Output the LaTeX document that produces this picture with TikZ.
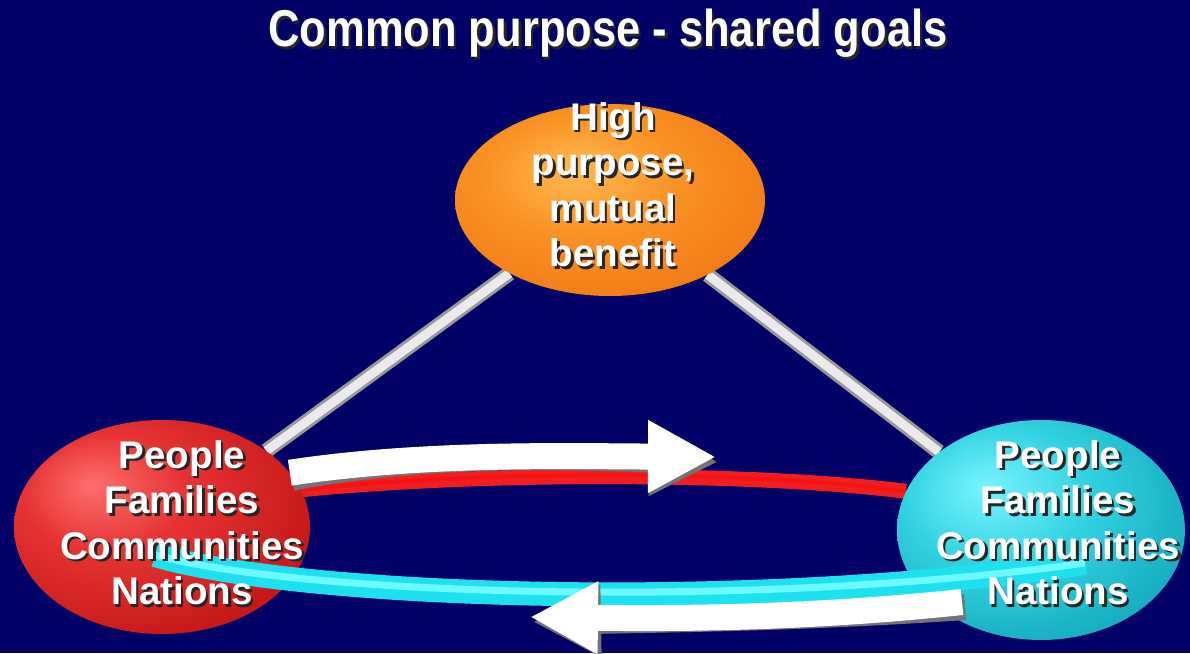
\documentclass[tikz,border=0pt]{standalone}
\usepackage{fontspec}
\setmainfont{Liberation Sans}
\usetikzlibrary{shapes.geometric,arrows.meta,calc}
\definecolor{bgnavy}{RGB}{0,0,102}
\definecolor{redband}{RGB}{240,30,30}
\definecolor{cyanband}{RGB}{30,225,240}
\definecolor{cyanlight}{RGB}{110,248,255}
\pgfdeclareradialshading{redball}{\pgfpoint{-12bp}{10bp}}{%
  color(0bp)=(rgb,255:red,255;green,110;blue,110);
  color(14bp)=(rgb,255:red,230;green,50;blue,50);
  color(32bp)=(rgb,255:red,200;green,25;blue,25);
  color(50bp)=(rgb,255:red,165;green,15;blue,15);
  color(70bp)=(rgb,255:red,150;green,10;blue,10)}
\pgfdeclareradialshading{orangeball}{\pgfpoint{-6bp}{8bp}}{%
  color(0bp)=(rgb,255:red,255;green,185;blue,80);
  color(16bp)=(rgb,255:red,250;green,145;blue,35);
  color(34bp)=(rgb,255:red,240;green,120;blue,20);
  color(50bp)=(rgb,255:red,225;green,100;blue,10);
  color(70bp)=(rgb,255:red,210;green,90;blue,5)}
\pgfdeclareradialshading{cyanball}{\pgfpoint{-10bp}{10bp}}{%
  color(0bp)=(rgb,255:red,120;green,245;blue,255);
  color(16bp)=(rgb,255:red,50;green,210;blue,225);
  color(34bp)=(rgb,255:red,20;green,170;blue,190);
  color(50bp)=(rgb,255:red,10;green,130;blue,150);
  color(70bp)=(rgb,255:red,5;green,110;blue,130)}
\newcommand\shw[1]{\leavevmode\rlap{\kern2.5pt\raisebox{-2.5pt}{\textcolor{black!85}{#1}}}#1}
\tikzset{
  ball/.style={ellipse, inner sep=0pt},
  txt/.style={text=white, align=center, font=\bfseries\fontsize{38.5}{45.5}\selectfont, inner sep=0pt},
  rodout/.style={line width=15pt, color=black!40},
  rodin/.style={line width=9pt, color=black!8},
  redstroke/.style={line width=15pt, color=redband},
  redhi/.style={line width=4pt, color=red!40!redband},
  cyanstroke/.style={line width=24pt, color=cyanband},
  cyanhi/.style={line width=7pt, color=cyanlight},
  warrow/.style={line width=26pt, color=white, -{Triangle[length=68pt,width=68pt]}},
  sarrow/.style={line width=26pt, color=black!55, -{Triangle[length=68pt,width=68pt]}},
}
\begin{document}
\begin{tikzpicture}[x=1pt,y=1pt]
\fill[bgnavy] (0,0) rectangle (1190,653);
\useasboundingbox (0,0) rectangle (1190,653);
% title
\node[txt, anchor=base, font=\bfseries\fontsize{43.5}{50}\selectfont, yscale=1.19] (title) at (608,606) {\shw{Common purpose - shared goals}};
% ellipse positions
\node[ball, minimum width=310pt, minimum height=192pt] (T) at (610,453) {};
\node[ball, minimum width=296pt, minimum height=214pt] (L) at (162,126) {};
\node[ball, minimum width=288pt, minimum height=220pt] (R) at (1041,123) {};
% rods
\draw[rodout] (T) -- (L);
\draw[rodin] (T) -- (L);
\draw[rodout] (T) -- (R);
\draw[rodin] (T) -- (R);
% red band (behind balls)
\draw[redstroke] (L.15) .. controls (480,181) and (750,181) .. (R.164);
\draw[redhi] (L.15) .. controls (480,183) and (750,183) .. (R.164);
% balls
\shade[shading=orangeball] (T.center) ellipse [x radius=155, y radius=96];
\shade[shading=redball] (L.center) ellipse [x radius=148, y radius=107];
\shade[shading=cyanball] (R.center) ellipse [x radius=144, y radius=110];
% top arrow
\coordinate (t1) at (716,196);
\draw[sarrow] ($(L.23)+(2,-5)$) .. controls (420,200) and (560,197) .. ($(t1)+(2,-5)$);
\draw[warrow] (L.23) .. controls (420,200) and (560,197) .. (t1);
% cyan band
\coordinate (c0) at (155,98);
\coordinate (c1) at (1085,90);
\draw[cyanstroke] (c0) .. controls (300,55) and (750,40) .. (c1);
\draw[cyanhi] (c0) .. controls (300,58) and (750,43) .. (c1);
% bottom arrow
\coordinate (b0) at (962,51);
\coordinate (b1) at (530,36);
\draw[sarrow] ($(b0)+(3,-5)$) .. controls (820,36) and (700,34) .. ($(b1)+(3,-5)$);
\draw[warrow] (b0) .. controls (820,36) and (700,34) .. (b1);
% texts
\node[txt] (Tt) at (613,467) {\shw{High}\\\shw{purpose,}\\\shw{mutual}\\\shw{benefit}};
\node[txt] (Lt) at (182,129) {\shw{People}\\\shw{Families}\\\shw{Communities}\\\shw{Nations}};
\node[txt] (Rt) at (1058,129) {\shw{People}\\\shw{Families}\\\shw{Communities}\\\shw{Nations}};
\end{tikzpicture}
\end{document}
